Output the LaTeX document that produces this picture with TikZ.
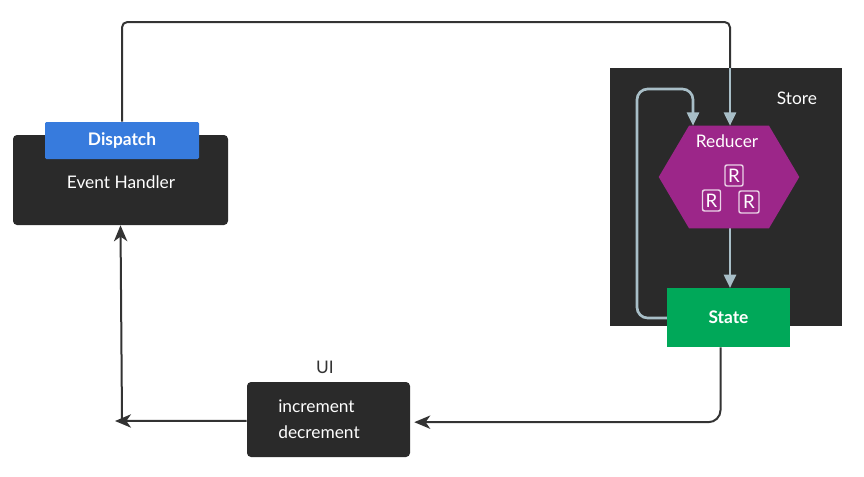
\documentclass[tikz,border=0pt]{standalone}
\usepackage{fontspec}
\setmainfont{Lato}
\usepackage{xcolor}
\usepackage{tikz}
\usetikzlibrary{arrows.meta}

\definecolor{boxdark}{HTML}{2A2A2A}
\definecolor{linedark}{HTML}{333333}
\definecolor{storeline}{HTML}{A8BEC7}
\definecolor{reducerpurple}{HTML}{9C2689}
\definecolor{stategreen}{HTML}{00A859}
\definecolor{dispatchblue}{HTML}{377BDD}

\tikzset{
  boxtext/.style={inner sep=0.75pt, text=white, font=\fontsize{13}{19.5}\selectfont},
  darkbox/.style={fill=boxdark, draw=none, rounded corners=3pt, inner sep=0pt},
  darkline/.style={draw=linedark, line width=1.5pt},
  darkarrow/.style={darkline, -{Stealth[length=12pt,width=10pt,inset=3.5pt]}},
  lightarrow/.style={draw=storeline, line width=2pt, -{Triangle[length=10pt,width=9pt]}},
  rbox/.style={draw=white!80!reducerpurple, line width=1.1pt, rounded corners=1.5pt, text=white,
    minimum width=13.5pt, minimum height=15.75pt, inner sep=0pt, font=\fontsize{14}{15}\selectfont}
}

\begin{document}
\begin{tikzpicture}[x=0.75pt,y=0.75pt,yscale=-1,xscale=1]
\useasboundingbox (0,0) rectangle (864,476);

% Store
\node [fill=boxdark, minimum width=174pt, minimum height=193.5pt, inner sep=0pt] (store) at (726,197) {};
\node [boxtext] (storelabel) at (797,98) {Store};

% Event handler with dispatch
\node [darkbox, minimum width=161.25pt, minimum height=67.5pt] (handler) at (120.5,180) {};
\node [boxtext] (handlertext) at (121,182) {Event Handler};
\node [fill=dispatchblue, rounded corners=1pt, minimum width=115.5pt, minimum height=27.75pt, inner sep=0pt,
  text=white, font=\fontsize{13}{15}\selectfont\bfseries] (dispatch) at (122,140.5) {Dispatch};

% UI
\node [darkbox, minimum width=122.25pt, minimum height=56.25pt] (ui) at (328.5,419.5) {};
\node [boxtext, align=left] (uitext) at (319,419) {increment\\decrement};
\node [inner sep=0.75pt, text=linedark, font=\fontsize{13}{15}\selectfont] (uilabel) at (325,367) {UI};

% Reducer
\node [minimum width=105pt, minimum height=76.5pt, inner sep=0pt] (reducer) at (729,177) {};
\coordinate (storein) at (730,68);
\coordinate (topright) at (730,22);
\coordinate (loopcorner) at (637,89);

% connectors
\draw [darkline, rounded corners=4pt] (dispatch.north) |- (topright) -- (storein);
\draw [lightarrow] (storein) -- (storein |- reducer.north);
\draw [lightarrow, rounded corners=8pt] (730,228) -- (730,288);
\draw [lightarrow, rounded corners=8pt] (667,318) -| (loopcorner) -| ([xshift=-27pt]reducer.north);

\fill [reducerpurple] (reducer.west) -- ([xshift=-30pt]reducer.north) -- ([xshift=30pt]reducer.north)
  -- (reducer.east) -- ([xshift=30pt]reducer.south) -- ([xshift=-30pt]reducer.south) -- cycle;
\node [boxtext] (reducerlabel) at (727,141) {Reducer};
\node [rbox] (ra) at (734,175.5) {R};
\node [rbox] (rb) at (711.5,200.5) {R};
\node [rbox, minimum width=15pt, minimum height=16.5pt] (rc) at (749,202) {R};

% State
\node [fill=stategreen, minimum width=92.25pt, minimum height=44.25pt, inner sep=0pt,
  text=white, font=\fontsize{13}{15}\selectfont\bfseries] (state) at (728.5,317.5) {State};

\coordinate (uileft) at (115,421);
\coordinate (handlerfoot) at (122,419);

\draw [darkarrow, rounded corners=9pt] ([xshift=-6pt]state.south) |- ([xshift=3pt,yshift=2pt]ui.east);
\draw [darkarrow] ([yshift=1pt]ui.west) -- (uileft);
\draw [darkarrow] (handlerfoot) -- (handler.south);

\end{tikzpicture}
\end{document}
